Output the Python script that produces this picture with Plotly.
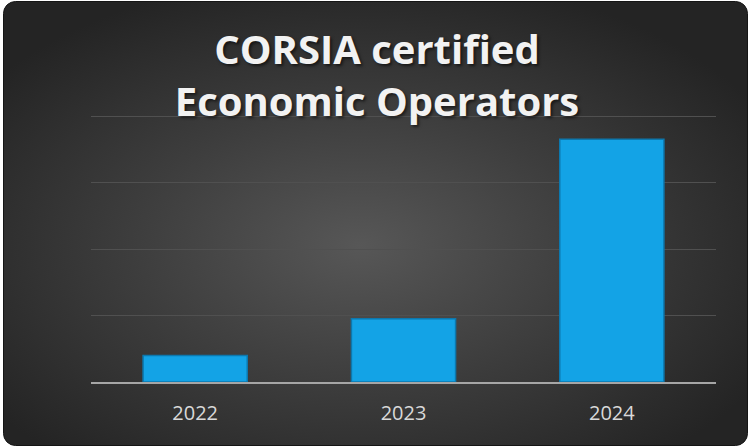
import base64
import plotly.graph_objects as go

years = ["2022", "2023", "2024"]
operators = [8, 19, 73]
title_lines = ["CORSIA certified", "Economic Operators"]

W, H = 751, 447
ML, MR, MT, MB = 91, 35, 113, 65
PW, PH = W - ML - MR, H - MT - MB
YTOP = PH / 266 * 80

svg = f'''<svg xmlns="http://www.w3.org/2000/svg" width="{W}" height="{H}" viewBox="0 0 {W} {H}" preserveAspectRatio="none">
<defs>
<radialGradient id="g" cx="0.48" cy="0.55" r="0.62" gradientUnits="objectBoundingBox">
<stop offset="0" stop-color="#575757"/>
<stop offset="0.5" stop-color="#3d3d3d"/>
<stop offset="1" stop-color="#242424"/>
</radialGradient>
</defs>
<rect x="3.5" y="1.5" width="744" height="444" rx="12" ry="12" fill="url(#g)" stroke="#151515" stroke-width="1"/>
</svg>'''
src = "data:image/svg+xml;base64," + base64.b64encode(svg.encode()).decode()

fig = go.Figure()
fig.add_trace(go.Bar(
    x=years, y=operators,
    marker=dict(color="#13A3E6", line=dict(color="#0C78AE", width=1.5)),
    width=0.5,
))

fig.update_layout(
    width=W, height=H,
    margin=dict(l=ML, r=MR, t=MT, b=MB),
    paper_bgcolor="white",
    plot_bgcolor="rgba(0,0,0,0)",
    showlegend=False,
    title=dict(text="<b>" + "<br>".join(title_lines) + "</b>",
               x=377 / W, xanchor="center", y=1 - 64 / H, yanchor="middle",
               xref="container", yref="container",
               font=dict(family="Open Sans", size=40, color="#F2F2F2",
                         shadow="2px 2px 3px rgba(0,0,0,0.55)")),
    images=[dict(source=src, xref="paper", yref="paper",
                 x=-ML / PW, y=1 + MT / PH,
                 sizex=W / PW, sizey=H / PH, xanchor="left", yanchor="top",
                 sizing="stretch", layer="below")],
    xaxis=dict(showgrid=False, showline=True, linecolor="#A6A6A6", linewidth=2,
               tickfont=dict(family="Open Sans", size=20, color="#D9D9D9"),
               ticks="", ticklabelstandoff=12, fixedrange=True),
    yaxis=dict(range=[0, YTOP], dtick=20, showgrid=True, gridcolor="#505050",
               gridwidth=1, showticklabels=False, zeroline=False, fixedrange=True),
)

fig.write_html("out.html", config={"displayModeBar": False},
               post_script="document.body.style.margin='0';")
